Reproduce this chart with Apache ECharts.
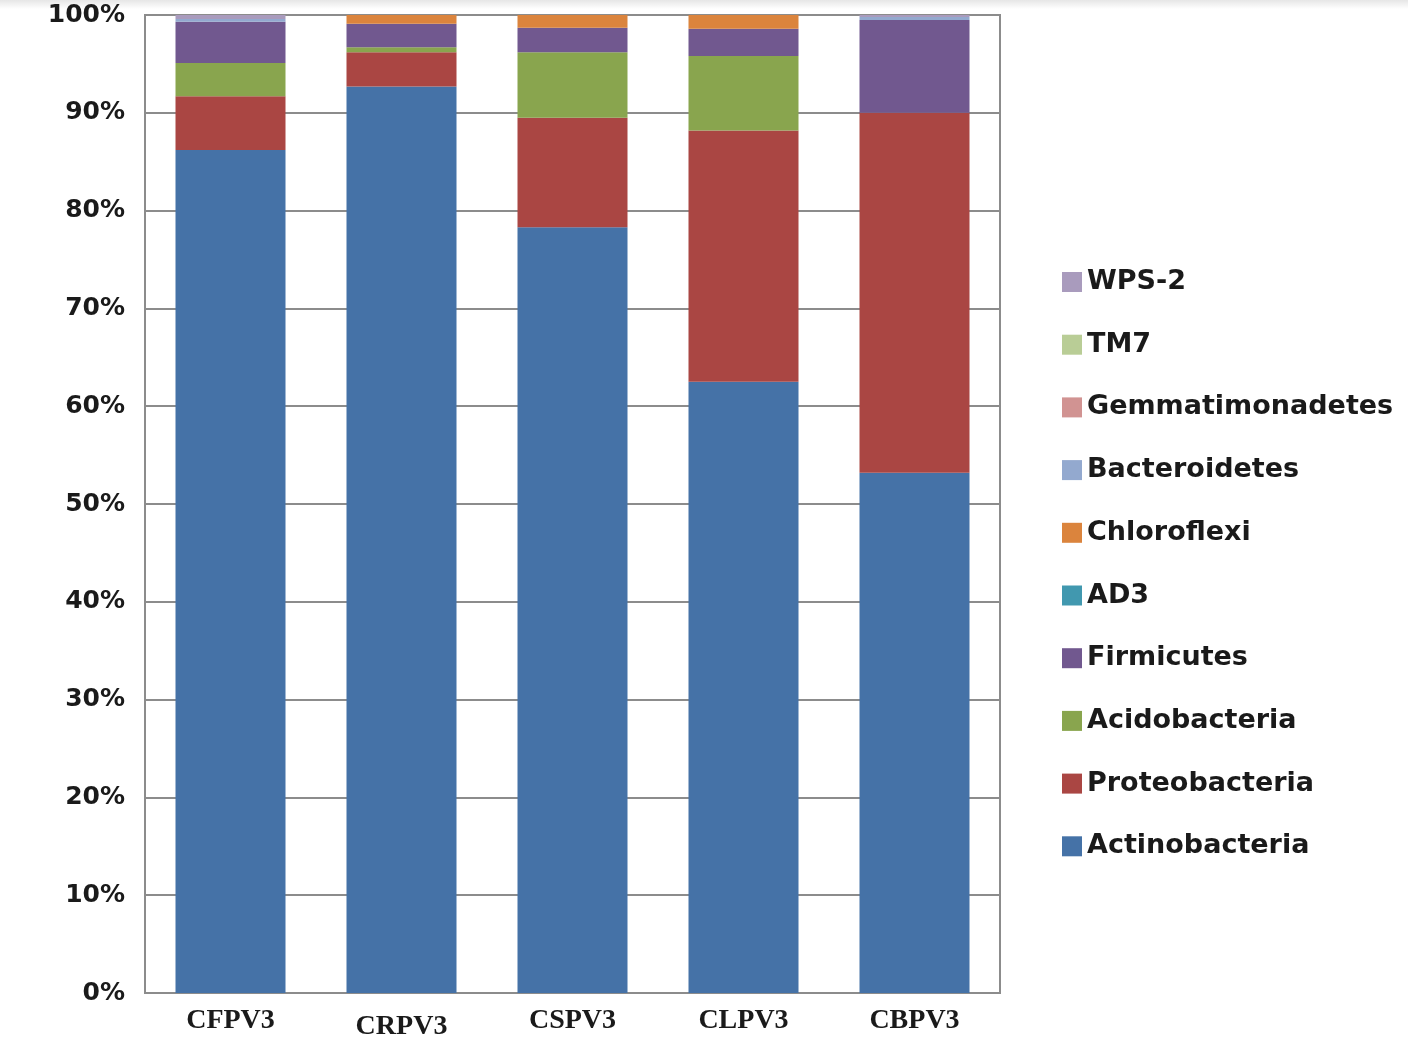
<!DOCTYPE html>
<html>
<head>
<meta charset="utf-8">
<script src="https://cdn.jsdelivr.net/npm/echarts@6/dist/echarts.min.js"></script>
<style>
  html, body { margin: 0; padding: 0; background: #ffffff; }
  #chart { width: 1408px; height: 1038px; }
</style>
</head>
<body>
<div id="chart"></div>
<script>
// Relative abundance (%) of bacterial phyla per sample
const samples = ['CFPV3', 'CRPV3', 'CSPV3', 'CLPV3', 'CBPV3'];

const actinobacteria   = [86.2, 92.7, 78.3, 62.5, 53.2];
const proteobacteria   = [5.5, 3.5, 11.2, 25.7, 36.8];
const acidobacteria    = [3.4, 0.5, 6.7, 7.6, 0.0];
const firmicutes       = [4.2, 2.4, 2.5, 2.8, 9.5];
const ad3              = [0.0, 0.0, 0.0, 0.0, 0.0];
const chloroflexi      = [0.0, 0.9, 1.3, 1.4, 0.0];
const bacteroidetes    = [0.3, 0.0, 0.0, 0.0, 0.3];
const gemmatimonadetes = [0.0, 0.0, 0.0, 0.0, 0.0];
const tm7              = [0.0, 0.0, 0.0, 0.0, 0.0];
const wps2             = [0.4, 0.0, 0.0, 0.0, 0.2];

const yTicks = [0, 10, 20, 30, 40, 50, 60, 70, 80, 90, 100];

// Bottom-to-top stacking order
const phyla = [
  { name: 'Actinobacteria',   data: actinobacteria,   color: '#4572A7' },
  { name: 'Proteobacteria',   data: proteobacteria,   color: '#AA4643' },
  { name: 'Acidobacteria',    data: acidobacteria,    color: '#89A54E' },
  { name: 'Firmicutes',       data: firmicutes,       color: '#71588F' },
  { name: 'AD3',              data: ad3,              color: '#4198AF' },
  { name: 'Chloroflexi',      data: chloroflexi,      color: '#DB843D' },
  { name: 'Bacteroidetes',    data: bacteroidetes,    color: '#93A9CF' },
  { name: 'Gemmatimonadetes', data: gemmatimonadetes, color: '#D19392' },
  { name: 'TM7',              data: tm7,              color: '#B9CD96' },
  { name: 'WPS-2',            data: wps2,             color: '#A99BBD' }
];

const sansBold = '"DejaVu Sans", Verdana, sans-serif';
const serifBold = '"Liberation Serif", "Times New Roman", serif';

const chart = echarts.init(document.getElementById('chart'), null, { renderer: 'canvas' });

const option = {
  backgroundColor: '#ffffff',
  animation: false,
  graphic: [{
    type: 'rect',
    left: 0, top: 0,
    shape: { width: 1408, height: 9 },
    style: {
      fill: new echarts.graphic.LinearGradient(0, 0, 0, 1, [
        { offset: 0, color: '#e6e6e6' },
        { offset: 1, color: '#ffffff' }
      ])
    },
    silent: true,
    z: -1
  }],
  grid: {
    left: 145, right: 408, top: 15, bottom: 45,
    outerBoundsMode: 'none',
    containLabel: false,
    show: true, borderColor: '#8c8c8c', borderWidth: 2
  },
  legend: {
    orient: 'vertical',
    left: 1057, top: 263,
    itemWidth: 20, itemHeight: 20,
    itemGap: 34.7,
    icon: 'rect',
    data: phyla.map(p => p.name).reverse(),
    textStyle: {
      fontFamily: sansBold,
      fontWeight: 'bold',
      fontSize: 27,
      lineHeight: 28,
      color: '#1a1a1a',
      padding: [0, 0, 0, 0]
    }
  },
  xAxis: {
    type: 'category',
    data: samples,
    axisLine: { show: true, lineStyle: { color: '#8c8c8c', width: 2 } },
    axisTick: { show: false },
    axisLabel: {
      interval: 0,
      margin: 14,
      fontFamily: serifBold,
      fontWeight: 'bold',
      fontSize: 28,
      color: '#1a1a1a',
      formatter: (v, i) => i === 1 ? '{low|' + v + '}' : v,
      rich: {
        low: {
          fontFamily: serifBold,
          fontWeight: 'bold', fontSize: 28, color: '#1a1a1a',
          padding: [6, 0, 0, 0]
        }
      }
    }
  },
  yAxis: {
    type: 'value',
    min: 0, max: 100, interval: 10,
    axisLine: { show: true, lineStyle: { color: '#8c8c8c', width: 2 } },
    axisTick: { show: false },
    splitLine: { show: true, lineStyle: { color: '#8c8c8c', width: 2 } },
    axisLabel: {
      margin: 20,
      fontFamily: sansBold,
      fontWeight: 'bold',
      fontSize: 25,
      color: '#1a1a1a',
      formatter: v => yTicks.includes(v) ? v + '%' : ''
    }
  },
  series: phyla.map(p => ({
    name: p.name,
    type: 'bar',
    stack: 'total',
    barWidth: 110,
    data: p.data,
    itemStyle: { color: p.color },
    emphasis: { disabled: true }
  }))
};

chart.setOption(option);
</script>
</body>
</html>
